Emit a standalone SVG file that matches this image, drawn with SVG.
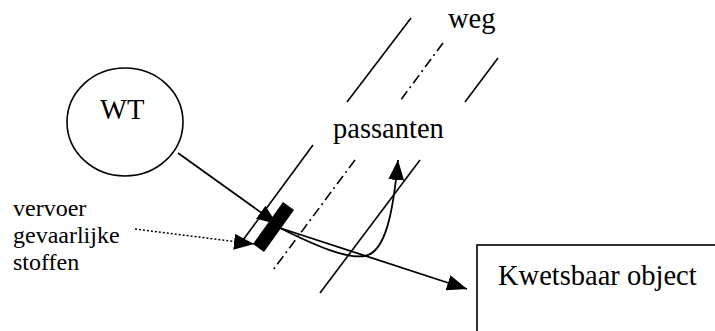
<svg xmlns="http://www.w3.org/2000/svg" width="715" height="331" viewBox="0 0 715 331">
<style>
text{font-family:'Liberation Serif','Times New Roman',serif;fill:#000}
.big{font-size:28.5px}
.small{font-size:24px}
.ln{fill:none;stroke:#000;stroke-width:1.6}
.dd{fill:none;stroke:#000;stroke-width:1.6;stroke-dasharray:10,4,2,4}
.arr{fill:none;stroke:#000;stroke-width:1.8;marker-end:url(#ah)}
</style>
<defs>
<marker id="ah" markerUnits="userSpaceOnUse" markerWidth="20" markerHeight="16" refX="20" refY="8" orient="auto">
<path d="M0,0 L20,8 L0,16 z" fill="#000"/>
</marker>
</defs>
<rect width="715" height="331" fill="#fff"/>
<g id="road">
<line class="ln" x1="411" y1="18" x2="347" y2="102"/>
<line class="ln" x1="313" y1="145" x2="243" y2="240"/>
<line class="dd" x1="443" y1="43" x2="400" y2="101"/>
<line class="dd" x1="355" y1="160" x2="273" y2="270"/>
<line class="ln" x1="498" y1="58" x2="465" y2="102"/>
<line class="ln" x1="420" y1="160" x2="320" y2="293"/>
<text class="big" x="448" y="28">weg</text>
</g>
<g id="wt">
<ellipse cx="125" cy="122" rx="58" ry="54" fill="none" stroke="#000" stroke-width="1.6"/>
<text class="big" x="100" y="119">WT</text>
</g>
<g id="passanten">
<text class="big" x="333" y="138">passanten</text>
</g>
<g id="truck">
<polygon points="283,202 294,210 264,252 253,244" fill="#000"/>
</g>
<g id="label">
<text class="small" x="13" y="216">vervoer</text>
<text class="small" x="13" y="243">gevaarlijke</text>
<text class="small" x="13" y="270">stoffen</text>
</g>
<g id="object">
<rect x="477" y="245" width="260" height="110" fill="none" stroke="#000" stroke-width="1.6"/>
<text class="big" x="498" y="285">Kwetsbaar object</text>
</g>
<g id="connectors">
<line class="arr" x1="178" y1="153" x2="277" y2="224"/>
<line x1="135" y1="229" x2="238" y2="242" stroke="#000" stroke-width="1.5" stroke-dasharray="2,2"/>
<path d="M236,242 L254,244" fill="none" stroke="#000" stroke-width="1" marker-end="url(#ah)"/>
<line class="arr" x1="280" y1="228" x2="467" y2="289"/>
<path class="arr" d="M280,228 C320,248 348,259 365,256 C385,252 393,215 398,160"/>
</g>
</svg>
